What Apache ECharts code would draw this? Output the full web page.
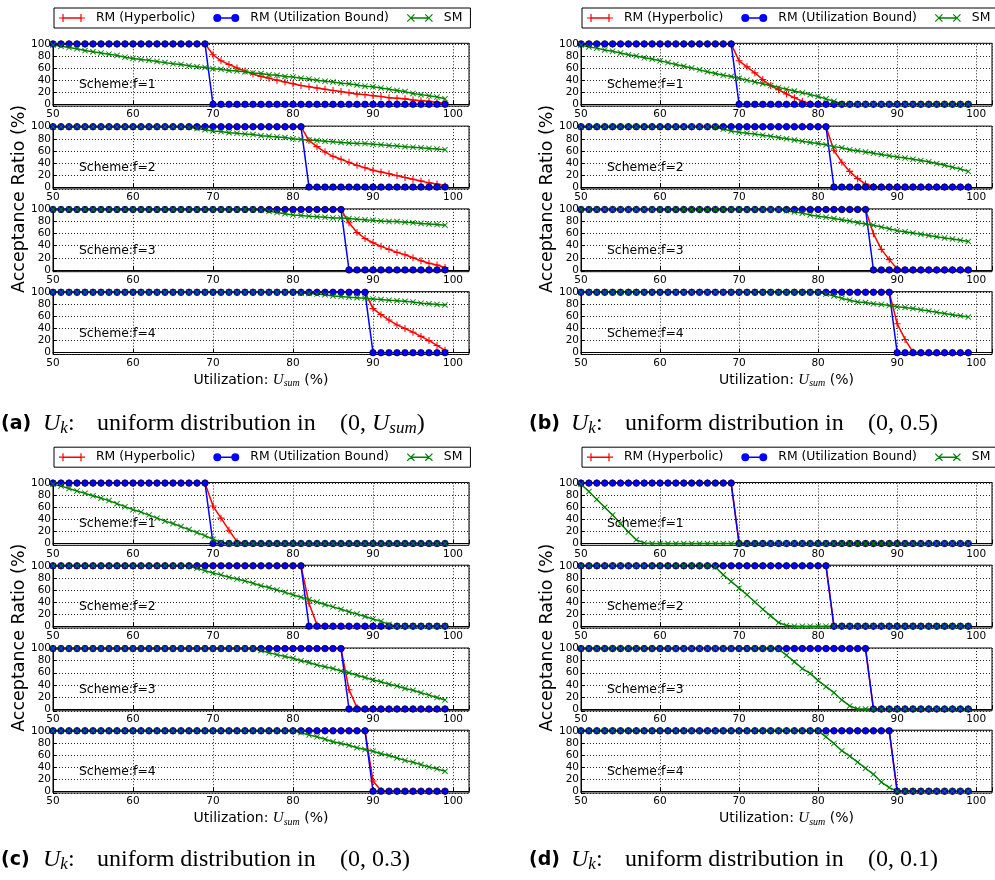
<!DOCTYPE html>
<html><head><meta charset="utf-8">
<script src="https://cdn.jsdelivr.net/npm/echarts@6/dist/echarts.min.js"></script>
<style>html,body{margin:0;padding:0;background:#fff}#c{width:995px;height:880px}</style>
</head><body><div id="c"></div>
<script>
// ---- x values (Utilization U_sum, %) ----
const U = [50,51,52,53,54,55,56,57,58,59,60,61,62,63,64,65,66,67,68,69,70,71,72,73,74,75,76,77,78,79,80,81,82,83,84,85,86,87,88,89,90,91,92,93,94,95,96,97,98,99];

// ---- RM (Utilization Bound), same in all four panels, f=1..4 ----
const ub1 = [100,100,100,100,100,100,100,100,100,100, 100,100,100,100,100,100,100,100,100,100, 0,0,0,0,0,0,0,0,0,0, 0,0,0,0,0,0,0,0,0,0, 0,0,0,0,0,0,0,0,0,0];
const ub2 = [100,100,100,100,100,100,100,100,100,100, 100,100,100,100,100,100,100,100,100,100, 100,100,100,100,100,100,100,100,100,100, 100,100,0,0,0,0,0,0,0,0, 0,0,0,0,0,0,0,0,0,0];
const ub3 = [100,100,100,100,100,100,100,100,100,100, 100,100,100,100,100,100,100,100,100,100, 100,100,100,100,100,100,100,100,100,100, 100,100,100,100,100,100,100,0,0,0, 0,0,0,0,0,0,0,0,0,0];
const ub4 = [100,100,100,100,100,100,100,100,100,100, 100,100,100,100,100,100,100,100,100,100, 100,100,100,100,100,100,100,100,100,100, 100,100,100,100,100,100,100,100,100,100, 0,0,0,0,0,0,0,0,0,0];

// ---- panel (a) ----
const ha1 = [100,100,100,100,100,100,100,100,100,100, 100,100,100,100,100,100,100,100,100,100, 82,72,66,60,55,50,46,43,40,37, 34,31,29,27,25,23,21,19,17,16, 14,13,11,10,9,7,6,5,3,2];
const ha2 = [100,100,100,100,100,100,100,100,100,100, 100,100,100,100,100,100,100,100,100,100, 100,100,100,100,100,100,100,100,100,100, 100,100,77,67,58,51,46,41,36,32, 28,25,22,19,16,13,10,7,5,2];
const ha3 = [100,100,100,100,100,100,100,100,100,100, 100,100,100,100,100,100,100,100,100,100, 100,100,100,100,100,100,100,100,100,100, 100,100,100,100,100,100,100,78,62,52, 45,39,34,29,25,20,15,11,8,4];
const ha4 = [100,100,100,100,100,100,100,100,100,100, 100,100,100,100,100,100,100,100,100,100, 100,100,100,100,100,100,100,100,100,100, 100,100,100,100,100,100,100,100,100,100, 73,63,54,46,40,34,27,20,12,4];
const sa1 = [98,96,94,92,89,87,85,83,81,78, 76,74,73,71,69,67,66,64,62,61, 59,58,56,55,54,52,51,49,48,46, 45,43,42,40,38,37,35,34,32,30, 29,27,25,23,21,18,16,14,12,9];
const sa2 = [100,100,100,100,100,100,100,100,100,100, 100,100,100,100,100,100,100,99,97,95, 93,92,90,89,88,87,85,84,83,82, 80,79,78,77,76,75,74,73,72,72, 71,70,69,68,67,66,65,64,63,62];
const sa3 = [100,100,100,100,100,100,100,100,100,100, 100,100,100,100,100,100,100,100,100,100, 100,100,100,100,100,100,99,97,95,93, 91,90,89,88,87,86,86,85,84,83, 82,81,80,80,79,78,77,76,75,74];
const sa4 = [100,100,100,100,100,100,100,100,100,100, 100,100,100,100,100,100,100,100,100,100, 100,100,100,100,100,100,100,100,100,100, 100,99,98,97,96,94,93,92,91,90, 89,88,87,86,85,84,82,81,80,79];

// ---- panel (b) ----
const hb1 = [100,100,100,100,100,100,100,100,100,100, 100,100,100,100,100,100,100,100,100,100, 72,62,52,41,31,24,17,11,5,1, 0,0,0,0,0,0,0,0,0,0, 0,0,0,0,0,0,0,0,0,0];
const hb2 = [100,100,100,100,100,100,100,100,100,100, 100,100,100,100,100,100,100,100,100,100, 100,100,100,100,100,100,100,100,100,100, 100,100,61,41,26,14,5,1,0,0, 0,0,0,0,0,0,0,0,0,0];
const hb3 = [100,100,100,100,100,100,100,100,100,100, 100,100,100,100,100,100,100,100,100,100, 100,100,100,100,100,100,100,100,100,100, 100,100,100,100,100,100,100,60,34,17, 2,0,0,0,0,0,0,0,0,0];
const hb4 = [100,100,100,100,100,100,100,100,100,100, 100,100,100,100,100,100,100,100,100,100, 100,100,100,100,100,100,100,100,100,100, 100,100,100,100,100,100,100,100,100,100, 48,22,1,0,0,0,0,0,0,0];
const sb1 = [98,95,93,90,88,85,82,80,77,75, 72,69,66,63,60,57,54,51,48,46, 43,40,37,34,31,28,25,22,19,16, 13,9,5,1,0,0,0,0,0,0, 0,0,0,0,0,0,0,0,0,0];
const sb2 = [100,100,100,100,100,100,100,100,100,100, 100,100,100,100,100,100,100,99,96,93, 91,89,88,86,84,82,80,78,76,74, 72,70,67,65,62,60,58,56,54,52, 50,48,46,44,42,39,36,33,30,26];
const sb3 = [100,100,100,100,100,100,100,100,100,100, 100,100,100,100,100,100,100,100,100,100, 100,100,100,100,100,100,98,96,94,91, 89,87,85,83,81,78,76,74,71,68, 65,63,61,59,57,55,53,51,49,47];
const sb4 = [100,100,100,100,100,100,100,100,100,100, 100,100,100,100,100,100,100,100,100,100, 100,100,100,100,100,100,100,100,100,100, 100,97,94,90,87,84,83,81,80,78, 76,75,73,71,69,67,65,63,61,59];

// ---- panel (c) ----
const hc1 = [100,100,100,100,100,100,100,100,100,100, 100,100,100,100,100,100,100,100,100,100, 62,42,22,3,0,0,0,0,0,0, 0,0,0,0,0,0,0,0,0,0, 0,0,0,0,0,0,0,0,0,0];
const hc2 = [100,100,100,100,100,100,100,100,100,100, 100,100,100,100,100,100,100,100,100,100, 100,100,100,100,100,100,100,100,100,100, 100,100,38,2,0,0,0,0,0,0, 0,0,0,0,0,0,0,0,0,0];
const hc3 = [100,100,100,100,100,100,100,100,100,100, 100,100,100,100,100,100,100,100,100,100, 100,100,100,100,100,100,100,100,100,100, 100,100,100,100,100,100,100,32,2,0, 0,0,0,0,0,0,0,0,0,0];
const hc4 = [100,100,100,100,100,100,100,100,100,100, 100,100,100,100,100,100,100,100,100,100, 100,100,100,100,100,100,100,100,100,100, 100,100,100,100,100,100,100,100,100,100, 17,1,0,0,0,0,0,0,0,0];
const sc1 = [98,95,91,87,83,79,75,71,66,61, 56,52,47,42,37,33,28,23,18,13, 7,2,0,0,0,0,0,0,0,0, 0,0,0,0,0,0,0,0,0,0, 0,0,0,0,0,0,0,0,0,0];
const sc2 = [100,100,100,100,100,100,100,100,100,100, 100,100,100,100,100,100,100,99,96,92, 88,85,81,78,75,71,67,64,60,56, 52,48,44,40,36,32,28,24,20,16, 12,8,3,0,0,0,0,0,0,0];
const sc3 = [100,100,100,100,100,100,100,100,100,100, 100,100,100,100,100,100,100,100,100,100, 100,100,100,100,100,100,97,93,90,87, 84,80,77,73,70,67,63,60,56,52, 48,45,41,38,34,31,27,23,19,15];
const sc4 = [100,100,100,100,100,100,100,100,100,100, 100,100,100,100,100,100,100,100,100,100, 100,100,100,100,100,100,100,100,100,100, 100,97,93,90,86,82,79,76,72,69, 66,62,59,55,51,48,44,40,37,33];

// ---- panel (d) ----
const hd1 = [100,100,100,100,100,100,100,100,100,100, 100,100,100,100,100,100,100,100,100,100, 0,0,0,0,0,0,0,0,0,0, 0,0,0,0,0,0,0,0,0,0, 0,0,0,0,0,0,0,0,0,0];
const hd2 = [100,100,100,100,100,100,100,100,100,100, 100,100,100,100,100,100,100,100,100,100, 100,100,100,100,100,100,100,100,100,100, 100,100,0,0,0,0,0,0,0,0, 0,0,0,0,0,0,0,0,0,0];
const hd3 = [100,100,100,100,100,100,100,100,100,100, 100,100,100,100,100,100,100,100,100,100, 100,100,100,100,100,100,100,100,100,100, 100,100,100,100,100,100,100,0,0,0, 0,0,0,0,0,0,0,0,0,0];
const hd4 = [100,100,100,100,100,100,100,100,100,100, 100,100,100,100,100,100,100,100,100,100, 100,100,100,100,100,100,100,100,100,100, 100,100,100,100,100,100,100,100,100,100, 0,0,0,0,0,0,0,0,0,0];
const sd1 = [98,86,73,60,47,33,19,6,1,0, 0,0,0,0,0,0,0,0,0,0, 0,0,0,0,0,0,0,0,0,0, 0,0,0,0,0,0,0,0,0,0, 0,0,0,0,0,0,0,0,0,0];
const sd2 = [100,100,100,100,100,100,100,100,100,100, 100,100,100,100,100,100,100,98,85,74, 63,52,40,28,17,6,1,0,0,0, 0,0,0,0,0,0,0,0,0,0, 0,0,0,0,0,0,0,0,0,0];
const sd3 = [100,100,100,100,100,100,100,100,100,100, 100,100,100,100,100,100,100,100,100,100, 100,100,100,100,100,99,89,78,67,59, 47,37,27,15,5,0,0,0,0,0, 0,0,0,0,0,0,0,0,0,0];
const sd4 = [100,100,100,100,100,100,100,100,100,100, 100,100,100,100,100,100,100,100,100,100, 100,100,100,100,100,100,100,100,100,100, 100,90,79,67,58,48,38,28,15,6, 0,0,0,0,0,0,0,0,0,0];

// ---- texts ----
const SERIES_NAMES = ['RM (Hyperbolic)', 'RM (Utilization Bound)', 'SM'];
const SCHEME_LABELS = ['Scheme:f=1', 'Scheme:f=2', 'Scheme:f=3', 'Scheme:f=4'];
const PANEL_LETTERS = ['(a)', '(b)', '(c)', '(d)'];
const CAPTION_MID = 'uniform distribution in';
const CAPTION_TAILS = ['{r|(0, }{m|U}{s|sum}{r|)}', '{r|(0, 0.5)}', '{r|(0, 0.3)}', '{r|(0, 0.1)}'];
const Y_TITLE = 'Acceptance Ratio (%)';
const X_TITLE = '{n|Utilization: }{m|U}{s|sum}{n| (%)}';

// ---- layout ----
const SANS = 'DejaVu Sans';
const SERIF = 'Liberation Serif';
const COL_LEFT = [53, 581];
const CAP_LEFT = [0, 528];
const ROW_TOPS = [[43.3, 126.1, 208.9, 291.7], [482.5, 565.2, 648.0, 730.2]];
const CAP_Y = [424, 860];
const PLOT_W = 416, PLOT_H = 62.8;
const YMIN = -3, YMAX = 101;

const panels = [
  {col: 0, row: 0, hyp: [ha1, ha2, ha3, ha4], sm: [sa1, sa2, sa3, sa4]},
  {col: 1, row: 0, hyp: [hb1, hb2, hb3, hb4], sm: [sb1, sb2, sb3, sb4]},
  {col: 0, row: 1, hyp: [hc1, hc2, hc3, hc4], sm: [sc1, sc2, sc3, sc4]},
  {col: 1, row: 1, hyp: [hd1, hd2, hd3, hd4], sm: [sd1, sd2, sd3, sd4]}
];
const ubs = [ub1, ub2, ub3, ub4];

const SYM_PLUS = 'path://M3.4,0H4.6V8H3.4Z M0,3.4H8V4.6H0Z';
const SYM_X = 'path://M0,0.85L0.85,0L8,7.15L7.15,8Z M7.15,0L8,0.85L0.85,8L0,7.15Z';
const ICON_PLUS = 'path://M4,3.25H22V4.75H4Z M3.4,0H4.6V8H3.4Z M0,3.4H8V4.6H0Z M21.4,0H22.6V8H21.4Z M18,3.4H26V4.6H18Z';
const ICON_CIRC = 'path://M4,3.25H22V4.75H4Z M0,4A4,4 0 1,1 8,4A4,4 0 1,1 0,4Z M18,4A4,4 0 1,1 26,4A4,4 0 1,1 18,4Z';
const ICON_X = 'path://M4,3.25H22V4.75H4Z M0,0.85L0.85,0L8,7.15L7.15,8Z M7.15,0L8,0.85L0.85,8L0,7.15Z M18,0.85L18.85,0L26,7.15L25.15,8Z M25.15,0L26,0.85L18.85,8L18,7.15Z';

const RED = '#ff0000', BLUE = '#0000ff', GREEN = '#008000';
const gridLine = {show: true, lineStyle: {color: '#222', type: [1, 2], width: 1}};
const tickStyle = {show: true, inside: true, length: 4, lineStyle: {color: '#000', width: 1}};

const grids = [], xAxes = [], yAxes = [], series = [], graphics = [], legends = [];

panels.forEach((p, pi) => {
  const left = COL_LEFT[p.col];
  p.hyp.forEach((_, f) => {
    const top = ROW_TOPS[p.row][f];
    const idx = grids.length;
    grids.push({left: left, top: top, width: PLOT_W, height: PLOT_H, show: true,
      borderColor: '#000', borderWidth: 1, backgroundColor: 'transparent'});
    const xa = {gridIndex: idx, type: 'value', min: 50, max: 102, interval: 10,
      axisLine: {show: true, lineStyle: {color: '#000', width: 1}},
      axisTick: tickStyle,
      axisLabel: {fontSize: 10.5, fontFamily: SANS, color: '#000', margin: 3,
        formatter: v => (v % 10 === 0 && v <= 100) ? String(v) : ''},
      splitLine: gridLine};
    if (f === 3) {
      xa.name = X_TITLE;
      xa.nameLocation = 'middle';
      xa.nameGap = 17;
      xa.nameTextStyle = {rich: {
        n: {fontSize: 14, fontFamily: SANS, color: '#000'},
        m: {fontSize: 15, fontFamily: SERIF, fontStyle: 'italic', color: '#000'},
        s: {fontSize: 10, fontFamily: SERIF, fontStyle: 'italic', color: '#000', padding: [7, 0, 0, 0]}
      }};
    }
    xAxes.push(xa);
    yAxes.push({gridIndex: idx, type: 'value', min: YMIN, max: YMAX, splitNumber: 5,
      axisLine: {show: true, lineStyle: {color: '#000', width: 1}},
      axisTick: tickStyle,
      axisLabel: {fontSize: 10.5, fontFamily: SANS, color: '#000', margin: 2,
        formatter: v => (Math.abs(v % 20) < 1e-9 && v >= 0 && v <= 100) ? String(Math.round(v)) : ''},
      splitLine: gridLine});
    const mk = arr => U.map((x, i) => [x, arr[i]]);
    series.push({type: 'line', name: SERIES_NAMES[0], xAxisIndex: idx, yAxisIndex: idx,
      data: mk(p.hyp[f]), symbol: SYM_PLUS, symbolSize: 7,
      itemStyle: {color: RED, borderWidth: 0}, lineStyle: {color: RED, width: 1.5},
      animation: false, silent: true});
    series.push({type: 'line', name: SERIES_NAMES[1], xAxisIndex: idx, yAxisIndex: idx,
      data: mk(ubs[f]), symbol: 'circle', symbolSize: 6.5,
      itemStyle: {color: BLUE, borderColor: '#000', borderWidth: 0.7}, lineStyle: {color: BLUE, width: 1.5},
      animation: false, silent: true});
    series.push({type: 'line', name: SERIES_NAMES[2], xAxisIndex: idx, yAxisIndex: idx,
      data: mk(p.sm[f]), symbol: SYM_X, symbolSize: 6,
      itemStyle: {color: GREEN, borderWidth: 0}, lineStyle: {color: GREEN, width: 1.5},
      animation: false, silent: true});
    graphics.push({type: 'text', z: 100,
      x: left + 26, y: top + (YMAX - 32) * PLOT_H / (YMAX - YMIN),
      style: {text: SCHEME_LABELS[f], fontSize: 12.4, fontFamily: SANS, fill: '#000',
        align: 'left', verticalAlign: 'middle', textAlign: 'left', textVerticalAlign: 'middle'}});
  });

  // legend (one per panel, box runs past the page edge on the right column like the original)
  legends.push({left: left + 1, top: ROW_TOPS[p.row][0] - 35.3, width: 420, orient: 'horizontal',
    itemWidth: 26, itemHeight: 8, itemGap: 18, padding: [4, 8, 4, 5],
    borderColor: '#000', borderWidth: 1, backgroundColor: '#fff', selectedMode: false,
    textStyle: {fontSize: 12.4, fontFamily: SANS, color: '#000', padding: [0, 0, 0, 6]},
    data: [
      {name: SERIES_NAMES[0], icon: ICON_PLUS, itemStyle: {color: RED, borderWidth: 0}},
      {name: SERIES_NAMES[1], icon: ICON_CIRC, itemStyle: {color: BLUE, borderWidth: 0}},
      {name: SERIES_NAMES[2], icon: ICON_X, itemStyle: {color: GREEN, borderWidth: 0}}
    ]});

  // y-axis title
  const t0 = ROW_TOPS[p.row][0], t3 = ROW_TOPS[p.row][3] + PLOT_H;
  graphics.push({type: 'text', x: left - 34, y: (t0 + t3) / 2, rotation: Math.PI / 2,
    style: {text: Y_TITLE, fontSize: 17.5, fontFamily: SANS, fill: '#000',
      align: 'center', verticalAlign: 'middle', textAlign: 'center', textVerticalAlign: 'middle'}});

  // caption
  const cx = CAP_LEFT[p.col], cy = CAP_Y[p.row];
  const capRich = {
    b: {fontSize: 19, fontFamily: SANS, fontWeight: 'bold', fill: '#000'},
    m: {fontSize: 24, fontFamily: SERIF, fontStyle: 'italic', fill: '#000'},
    s: {fontSize: 17, fontFamily: SERIF, fontStyle: 'italic', fill: '#000', padding: [10, 0, 0, 0]},
    r: {fontSize: 24, fontFamily: SERIF, fill: '#000'}
  };
  const capStyle = (text, x) => ({type: 'text', x: x, y: cy,
    style: {text: text, rich: capRich, fill: '#000', align: 'left', verticalAlign: 'middle',
      textAlign: 'left', textVerticalAlign: 'middle'}});
  graphics.push(capStyle('{b|' + PANEL_LETTERS[pi] + '}', cx + 1));
  graphics.push(capStyle('{m|U}{s|k}{r|:}', cx + 43));
  graphics.push(capStyle('{r|' + CAPTION_MID + '}', cx + 97));
  graphics.push(capStyle(CAPTION_TAILS[pi], cx + 340));
});

const chart = echarts.init(document.getElementById('c'), null, {renderer: 'canvas'});
chart.setOption({
  animation: false,
  backgroundColor: '#fff',
  legend: legends,
  grid: grids,
  xAxis: xAxes,
  yAxis: yAxes,
  series: series,
  graphic: graphics
});
</script>
</body></html>
